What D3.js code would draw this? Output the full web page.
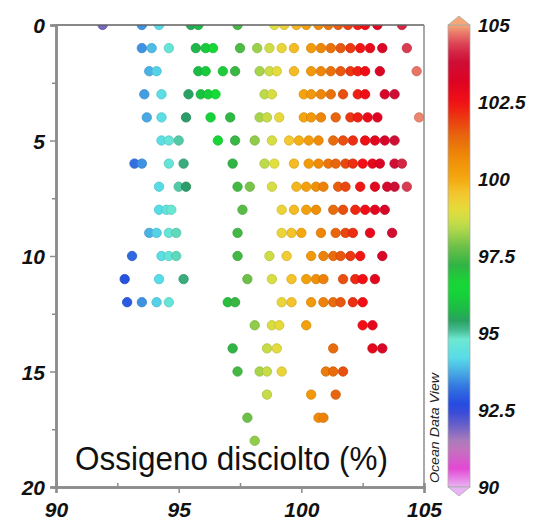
<!DOCTYPE html>
<html lang="it">
  <head>
    <meta charset="UTF-8" />
    <script src="https://cdn.jsdelivr.net/npm/d3@7"></script>
    <style>
      * {
        margin: 0;
        padding: 0;
      }
      body {
        background: #fff;
      }
      svg {
        display: block;
        font-family: 'Liberation Sans', Arial, sans-serif;
      }
    </style>
    <title>Ossigeno disciolto</title>
  </head>
  <body>
    <div id="chart"></div>
  </body>
  <script>
    // depth (m) of each row of samples
    const depths = [0, 1, 2, 3, 4, 5, 6, 7, 8, 9, 10, 11, 12, 13, 14, 15, 16, 17, 18];

    // dissolved oxygen saturation (%) measured at each depth
    const saturation = [
      [91.9, 93.5, 94.2, 95.5, 95.8, 97.4, 98.9, 99.3, 99.8, 100.2, 100.7, 101.1, 101.5, 101.9, 102.3, 102.6, 103.1, 104.1],
      [93.5, 93.9, 94.6, 95.7, 96.1, 96.4, 97.5, 98.2, 98.7, 99.2, 99.7, 100.4, 100.8, 101.2, 101.6, 102.0, 102.4, 102.8, 103.3, 104.3],
      [93.8, 94.1, 95.8, 96.1, 96.8, 97.3, 98.3, 98.7, 99.0, 99.7, 100.4, 100.8, 101.2, 101.6, 102.0, 102.3, 102.6, 103.2, 104.7],
      [93.6, 94.3, 95.4, 95.9, 96.2, 96.5, 98.5, 98.8, 100.1, 100.4, 100.8, 101.2, 101.7, 102.3, 102.6, 103.4, 103.8],
      [93.7, 94.3, 95.3, 96.3, 97.1, 98.3, 98.6, 99.1, 100.1, 100.4, 100.8, 101.4, 102.0, 102.3, 102.7, 103.1, 104.8],
      [94.3, 94.6, 95.0, 96.6, 97.3, 98.1, 98.8, 99.5, 99.9, 100.3, 100.7, 101.3, 101.7, 102.1, 102.6, 103.0, 103.4, 103.8],
      [93.2, 93.5, 94.6, 95.2, 97.2, 98.5, 98.9, 99.7, 100.3, 100.7, 101.1, 101.4, 101.8, 102.1, 102.5, 102.9, 103.2, 103.8, 104.1],
      [94.2, 95.0, 95.3, 97.4, 97.9, 98.8, 99.8, 100.2, 100.6, 100.9, 101.5, 101.8, 102.4, 103.0, 103.5, 103.8, 104.3],
      [94.2, 94.5, 94.7, 97.6, 99.2, 99.7, 100.2, 100.6, 101.3, 101.7, 102.2, 102.6, 103.0, 103.4],
      [93.8, 94.1, 94.6, 94.9, 97.4, 99.2, 99.6, 100.0, 100.8, 101.4, 101.8, 102.1, 102.8, 103.7],
      [93.1, 94.3, 94.6, 94.9, 97.4, 98.7, 99.4, 100.4, 100.9, 101.3, 101.6, 102.0, 102.4, 103.3],
      [92.8, 94.2, 95.2, 97.8, 98.8, 99.6, 100.2, 100.6, 100.9, 101.7, 102.2, 102.5, 103.0],
      [92.9, 93.5, 94.1, 94.6, 97.0, 97.3, 99.2, 99.6, 100.4, 100.9, 101.3, 101.6, 102.1, 102.5],
      [98.1, 98.8, 99.1, 100.2, 102.5, 102.9],
      [97.2, 98.6, 99.0, 101.3, 102.9, 103.3],
      [97.4, 98.3, 98.6, 99.2, 101.0, 101.3, 101.7],
      [98.6, 100.4, 101.4],
      [97.8, 100.7, 100.9],
      [98.1],
    ];

    const xTicks = [90, 95, 100, 105];
    const yTicks = [0, 5, 10, 15, 20];
    const colorTicks = [90, 92.5, 95, 97.5, 100, 102.5, 105];

    // ODV style rainbow palette
    const paletteStops = [90, 90.6, 91.4, 92, 92.6, 93.2, 93.7, 94.2, 94.8, 95.3, 95.8, 96.5, 97.2, 97.8, 98.4, 98.9, 99.5, 100, 100.6, 101.3, 101.9, 102.5, 103.2, 103.9, 104.5, 105];
    const paletteColors = ['#e8b4f4', '#e448d4', '#b880b8', '#6a60c8', '#2444e0', '#3070e0', '#48a8e4', '#58dce8', '#6ce8d0', '#2c9c68', '#1cbc44', '#14dc34', '#30b444', '#6cc048', '#b4d84c', '#e0e040', '#f4c830', '#f4a810', '#f09008', '#e86c0c', '#ea4010', '#f20e14', '#dc0424', '#cc1038', '#e0505c', '#f4a878'];

    const width = 538;
    const height = 522;
    const plot = { left: 56, right: 424, top: 25, bottom: 487 };
    const axisColor = '#8c8c8c';

    const x = d3.scaleLinear().domain([90, 105]).range([plot.left, plot.right]);
    const y = d3.scaleLinear().domain([0, 20]).range([plot.top, plot.bottom]);
    const color = d3.scaleLinear().domain(paletteStops).range(paletteColors).clamp(true);

    const points = [];
    depths.forEach((d, i) => {
      saturation[i].forEach((v) => points.push({ depth: d, value: v }));
    });

    const svg = d3
      .select('#chart')
      .append('svg')
      .attr('width', width)
      .attr('height', height);

    const defs = svg.append('defs');
    defs
      .append('clipPath')
      .attr('id', 'plot-clip')
      .append('rect')
      .attr('x', plot.left)
      .attr('y', plot.top)
      .attr('width', plot.right - plot.left)
      .attr('height', plot.bottom - plot.top);

    // dots
    svg
      .append('g')
      .attr('clip-path', 'url(#plot-clip)')
      .selectAll('circle')
      .data(points)
      .join('circle')
      .attr('cx', (d) => x(d.value))
      .attr('cy', (d) => y(d.depth))
      .attr('r', 4.7)
      .attr('fill', (d) => color(d.value))
      .attr('stroke', (d) => d3.color(color(d.value)).darker(0.35))
      .attr('stroke-width', 0.8);

    // frame top / right
    svg
      .append('line')
      .attr('x1', plot.left)
      .attr('x2', plot.right)
      .attr('y1', plot.top)
      .attr('y2', plot.top)
      .attr('stroke', '#606060')
      .attr('stroke-width', 1.5);
    svg
      .append('line')
      .attr('x1', plot.right)
      .attr('x2', plot.right)
      .attr('y1', plot.top)
      .attr('y2', plot.bottom)
      .attr('stroke', axisColor)
      .attr('stroke-width', 1.5);

    // minor ticks
    const minorY = d3.axisLeft(y).tickValues([2.5, 7.5, 12.5, 17.5]).tickSize(4).tickFormat('');
    const minorX = d3.axisTop(x).tickValues([92.5, 97.5, 102.5]).tickSize(4).tickFormat('');
    svg.append('g').attr('transform', `translate(${plot.left},0)`).call(minorY);
    svg.append('g').attr('transform', `translate(0,${plot.bottom})`).call(minorX);

    // major axes
    const yAxis = d3.axisLeft(y).tickValues(yTicks).tickSize(6).tickPadding(5);
    const xAxis = d3.axisBottom(x).tickValues(xTicks).tickSize(6).tickPadding(6);
    const yG = svg.append('g').attr('transform', `translate(${plot.left},0)`).call(yAxis);
    const xG = svg.append('g').attr('transform', `translate(0,${plot.bottom})`).call(xAxis);

    svg.selectAll('.domain').attr('stroke', axisColor).attr('stroke-width', 2.5);
    svg.selectAll('.tick line').attr('stroke', axisColor).attr('stroke-width', 1.5);
    [yG, xG].forEach((g) =>
      g
        .selectAll('text')
        .attr('fill', '#111')
        .attr('font-size', 21)
        .attr('font-weight', 'bold')
        .attr('font-style', 'italic')
    );
    yG.selectAll('text').attr('dy', '0.36em');
    xG.selectAll('text').attr('dy', '0.85em');

    // chart label
    svg
      .append('text')
      .attr('x', 75)
      .attr('y', 470)
      .attr('font-size', 33)
      .attr('textLength', 313)
      .attr('lengthAdjust', 'spacingAndGlyphs')
      .attr('fill', '#111')
      .text('Ossigeno disciolto (%)');

    // colour bar
    const cb = { left: 448, right: 470 };
    const cy = d3.scaleLinear().domain([90, 105]).range([plot.bottom, plot.top]);
    const grad = defs
      .append('linearGradient')
      .attr('id', 'cbar')
      .attr('x1', 0)
      .attr('x2', 0)
      .attr('y1', 1)
      .attr('y2', 0);
    grad
      .selectAll('stop')
      .data(d3.range(0, 1.0001, 0.02))
      .join('stop')
      .attr('offset', (t) => t)
      .attr('stop-color', (t) => color(90 + t * 15));

    svg
      .append('rect')
      .attr('x', cb.left)
      .attr('y', cy(105))
      .attr('width', cb.right - cb.left)
      .attr('height', cy(90) - cy(105))
      .attr('fill', 'url(#cbar)')
      .attr('stroke', '#aaa')
      .attr('stroke-width', 0.8);

    const mid = (cb.left + cb.right) / 2;
    svg
      .append('path')
      .attr('d', `M${cb.left},${cy(105)}L${mid},${cy(105) - 9}L${cb.right},${cy(105)}Z`)
      .attr('fill', color(105))
      .attr('stroke', '#aaa')
      .attr('stroke-width', 0.8);
    svg
      .append('path')
      .attr('d', `M${cb.left},${cy(90)}L${mid},${cy(90) + 9}L${cb.right},${cy(90)}Z`)
      .attr('fill', color(90))
      .attr('stroke', '#aaa')
      .attr('stroke-width', 0.8);

    svg
      .append('g')
      .selectAll('text')
      .data(colorTicks)
      .join('text')
      .attr('x', cb.right + 8)
      .attr('y', (d) => cy(d))
      .attr('dy', '0.36em')
      .attr('font-size', 19)
      .attr('font-weight', 'bold')
      .attr('font-style', 'italic')
      .attr('fill', '#111')
      .text((d) => d);

    svg
      .append('text')
      .attr('transform', `translate(439,428) rotate(-90)`)
      .attr('text-anchor', 'middle')
      .attr('font-size', 12)
      .attr('font-style', 'italic')
      .attr('textLength', 110)
      .attr('lengthAdjust', 'spacingAndGlyphs')
      .attr('fill', '#222')
      .text('Ocean Data View');
  </script>
</html>
